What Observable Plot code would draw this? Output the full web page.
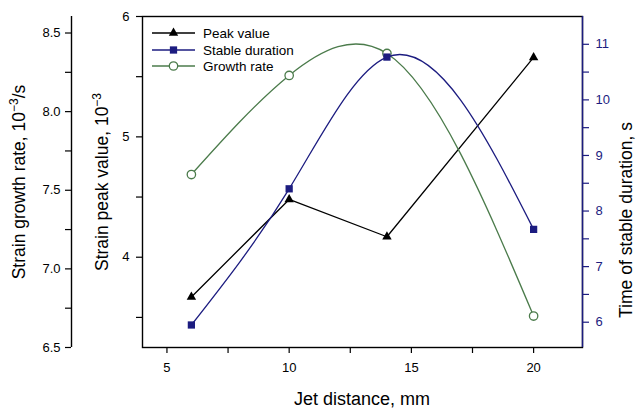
<!DOCTYPE html>
<html>
<head>
<meta charset="utf-8">
<script src="https://cdn.jsdelivr.net/npm/d3@7"></script>
<script src="https://cdn.jsdelivr.net/npm/@observablehq/plot@0.6"></script>
<style>
  html, body { margin: 0; padding: 0; background: #fff; }
  #chart { position: relative; width: 636px; height: 409px; overflow: hidden; }
  #chart svg { position: absolute; left: 0; top: 0; }
</style>
</head>
<body>
<div id="chart"></div>
<script>
// ---- data ----
const distance = [6, 10, 14, 20];                 // Jet distance, mm
const peakValue = [3.67, 4.48, 4.17, 5.66];       // Strain peak value, 10^-3
const stableDuration = [5.95, 8.40, 10.77, 7.67]; // Time of stable duration, s
const growthRate = [7.60, 8.23, 8.37, 6.70];      // Strain growth rate, 10^-3/s

const xTicks = [5, 10, 15, 20];
const xMinor = [7.5, 12.5, 17.5];
const peakTicks = [4, 5, 6];
const peakMinor = [3.5, 4.5, 5.5];
const growthTicks = [6.5, 7.0, 7.5, 8.0, 8.5];
const growthMinor = [6.75, 7.25, 7.75, 8.25];
const stableTicks = [6, 7, 8, 9, 10, 11];
const stableMinor = [6.5, 7.5, 8.5, 9.5, 10.5];

const seriesNames = ["Peak value", "Stable duration", "Growth rate"];

// ---- style ----
const NAVY = "#1c1c80";
const GREEN = "#4b7b4b";
const FONT = "Liberation Sans, Arial, sans-serif";

// custom curve: natural cubic spline y(x) (function of x, as in the source software)
function NaturalX(context) { this._context = context; }
NaturalX.prototype = {
  areaStart() { this._line = 0; },
  areaEnd() { this._line = NaN; },
  lineStart() { this._xs = []; this._ys = []; },
  point(x, y) { this._xs.push(+x); this._ys.push(+y); },
  lineEnd() {
    const X = this._xs, Y = this._ys, n = X.length, c = this._context;
    if (!n) return;
    c.moveTo(X[0], Y[0]);
    if (n === 2) { c.lineTo(X[1], Y[1]); return; }
    if (n < 2) return;
    const h = [], s = [];
    for (let i = 0; i < n - 1; i++) { h[i] = X[i + 1] - X[i]; s[i] = (Y[i + 1] - Y[i]) / h[i]; }
    const M = new Array(n).fill(0);
    const m = n - 2, a = [], b = [], cc = [], r = [];
    for (let k = 0; k < m; k++) {
      const i = k + 1;
      a[k] = h[i - 1]; b[k] = 2 * (h[i - 1] + h[i]); cc[k] = h[i]; r[k] = 6 * (s[i] - s[i - 1]);
    }
    for (let k = 1; k < m; k++) {
      const w = a[k] / b[k - 1];
      b[k] -= w * cc[k - 1]; r[k] -= w * r[k - 1];
    }
    const sol = [];
    sol[m - 1] = r[m - 1] / b[m - 1];
    for (let k = m - 2; k >= 0; k--) sol[k] = (r[k] - cc[k] * sol[k + 1]) / b[k];
    for (let k = 0; k < m; k++) M[k + 1] = sol[k];
    for (let i = 0; i < n - 1; i++) {
      const d0 = s[i] - h[i] * (2 * M[i] + M[i + 1]) / 6;
      const d1 = s[i] + h[i] * (M[i] + 2 * M[i + 1]) / 6;
      c.bezierCurveTo(
        X[i] + h[i] / 3, Y[i] + d0 * h[i] / 3,
        X[i + 1] - h[i] / 3, Y[i + 1] - d1 * h[i] / 3,
        X[i + 1], Y[i + 1]);
    }
  }
};
const curveNaturalX = (context) => new NaturalX(context);

const rows = distance.map((d, i) => ({
  x: d, peak: peakValue[i], stable: stableDuration[i], growth: growthRate[i]
}));

const common = {
  width: 636, height: 409,
  marginLeft: 142, marginRight: 54, marginTop: 16, marginBottom: 62,
  style: { fontFamily: FONT, fontSize: "13px", background: "transparent", overflow: "visible" }
};

// main plot: x axis, strain peak axis, peak series
const p1 = Plot.plot({
  ...common,
  x: { domain: [4, 22], label: null },
  y: { domain: [3.25, 6], label: null },
  marks: [
    Plot.axisX(xTicks, { tickSize: 6, tickPadding: 9, tickFormat: d => String(d), label: null, strokeWidth: 1.2 }),
    Plot.axisX(xMinor, { tickSize: 6, tickFormat: () => "", label: null, strokeWidth: 1.2 }),
    Plot.axisY(peakTicks, { tickSize: 6, tickPadding: 7, tickFormat: d => String(d), label: null, strokeWidth: 1.2 }),
    Plot.axisY(peakMinor, { tickSize: 6, tickFormat: () => "", label: null, strokeWidth: 1.2 }),
    Plot.frame({ stroke: "black", strokeWidth: 1.4 }),
    Plot.line(rows, { x: "x", y: "peak", stroke: "black", strokeWidth: 1.3 }),
    Plot.dot(rows, { x: "x", y: "peak", symbol: "triangle", fill: "black", stroke: "none", r: 3.5 })
  ]
});

// growth rate plot with far-left axis
const p2 = Plot.plot({
  ...common,
  x: { domain: [4, 22], label: null, axis: null },
  y: { domain: [6.5, 8.605], label: null },
  marks: [
    Plot.ruleX([4], { dx: -71, stroke: "black", strokeWidth: 1.4 }),
    Plot.axisY(growthTicks, { dx: -71, tickSize: 6, tickPadding: 5, tickFormat: d3.format(".1f"), label: null, strokeWidth: 1.2 }),
    Plot.axisY(growthMinor, { dx: -71, tickSize: 6, tickFormat: () => "", label: null, strokeWidth: 1.2 }),
    Plot.line(rows, { x: "x", y: "growth", stroke: GREEN, strokeWidth: 1.3, curve: curveNaturalX }),
    Plot.dot(rows, { x: "x", y: "growth", symbol: "circle", fill: "white", stroke: GREEN, strokeWidth: 1.3, r: 4.2 })
  ]
});

// stable duration plot with right axis
const p3 = Plot.plot({
  ...common,
  x: { domain: [4, 22], label: null, axis: null },
  y: { domain: [5.545, 11.5], label: null },
  marks: [
    Plot.ruleX([22], { stroke: NAVY, strokeWidth: 1.4 }),
    Plot.axisY(stableTicks, { anchor: "right", color: NAVY, tickSize: 6, tickPadding: 7, tickFormat: d => String(d), label: null, strokeWidth: 1.2 }),
    Plot.axisY(stableMinor, { anchor: "right", color: NAVY, tickSize: 6, tickFormat: () => "", label: null, strokeWidth: 1.2 }),
    Plot.line(rows, { x: "x", y: "stable", stroke: NAVY, strokeWidth: 1.3, curve: curveNaturalX }),
    Plot.dot(rows, { x: "x", y: "stable", symbol: "square", fill: NAVY, stroke: "none", r: 4.1 })
  ]
});

const chart = document.getElementById("chart");
chart.append(p1, p2, p3);

// ---- titles and legend (drawn on top-most svg) ----
const svg = d3.select(p3);

function rotTitle(x, y, main, sup, tail) {
  const t = svg.append("text")
    .attr("transform", `translate(${x},${y}) rotate(-90)`)
    .attr("text-anchor", "middle").attr("dy", "0.35em")
    .attr("font-family", FONT).attr("font-size", 17.5).attr("fill", "black");
  t.append("tspan").text(main);
  if (sup) t.append("tspan").attr("baseline-shift", "super").attr("font-size", 12).text(sup);
  if (tail) t.append("tspan").text(tail);
}
rotTitle(19, 182, "Strain growth rate, 10", "\u22123", "/s");
rotTitle(102, 182, "Strain peak value, 10", "\u22123", null);
rotTitle(626, 220, "Time of stable duration, s", null, null);

svg.append("text")
  .attr("x", 362).attr("y", 405).attr("text-anchor", "middle")
  .attr("font-family", FONT).attr("font-size", 18).attr("fill", "black")
  .text("Jet distance, mm");

// legend
const legendColors = ["black", NAVY, GREEN];
const legendY = [33, 50, 66];
const lg = svg.append("g").attr("font-family", FONT).attr("font-size", 13.5).attr("text-anchor", "start");
seriesNames.forEach((name, i) => {
  const y = legendY[i];
  lg.append("line").attr("x1", 152).attr("x2", 195).attr("y1", y).attr("y2", y)
    .attr("stroke", legendColors[i]).attr("stroke-width", 1.3);
  if (i === 0) {
    lg.append("path").attr("transform", `translate(173.5,${y})`)
      .attr("d", d3.symbol(d3.symbolTriangle, Math.PI * 3.5 * 3.5)()).attr("fill", "black");
  } else if (i === 1) {
    lg.append("path").attr("transform", `translate(173.5,${y})`)
      .attr("d", d3.symbol(d3.symbolSquare, Math.PI * 4.1 * 4.1)()).attr("fill", NAVY);
  } else {
    lg.append("circle").attr("cx", 173.5).attr("cy", y).attr("r", 4.2)
      .attr("fill", "white").attr("stroke", GREEN).attr("stroke-width", 1.3);
  }
  lg.append("text").attr("x", 203).attr("y", y).attr("dy", "0.35em")
    .attr("text-anchor", "start").attr("fill", "black").text(name);
});
</script>
</body>
</html>
